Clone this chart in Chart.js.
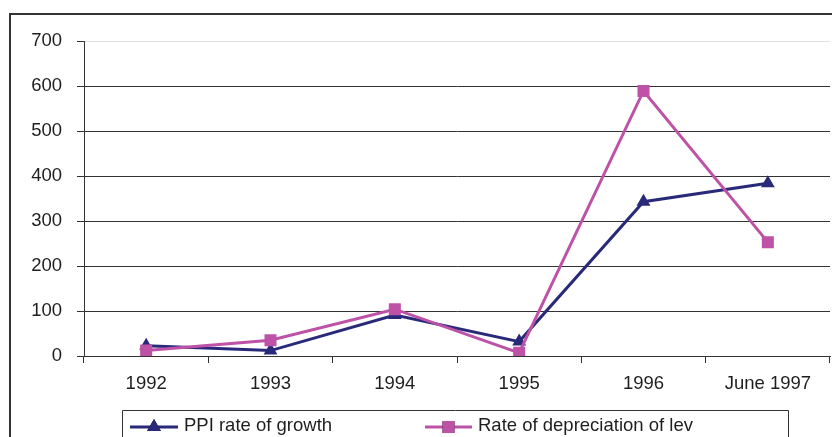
<!DOCTYPE html>
<html>
<head>
<meta charset="utf-8">
<script src="https://cdn.jsdelivr.net/npm/chart.js@4/dist/chart.umd.min.js"></script>
<style>
  html, body { margin: 0; padding: 0; background: #fff; }
  #wrap { position: relative; width: 832px; height: 437px; }
  canvas { display: block; }
</style>
</head>
<body>
<div id="wrap"><canvas id="chart" width="832" height="437"></canvas></div>
<script>
// Period labels along the horizontal axis
const periods = ['1992', '1993', '1994', '1995', '1996', 'June 1997'];
// PPI rate of growth, %
const ppiGrowth = [23, 12, 91, 32, 343, 384];
// Rate of depreciation of the lev, %
const levDepreciation = [12, 35, 104, 7, 589, 253];
// Value axis
const yTicks = [0, 100, 200, 300, 400, 500, 600, 700];

const NAVY = '#29297a';
const MAGENTA = '#bd52a6';
const FONT = "'Liberation Sans', Arial, sans-serif";
const FONT_SIZE = 18.5;

// Outer frame (left and top edges) and the boxed legend below the axis
const framePlugin = {
  id: 'frame',
  beforeDraw(chart) {
    const ctx = chart.ctx;
    ctx.save();
    ctx.fillStyle = '#fff';
    ctx.fillRect(0, 0, chart.width, chart.height);
    ctx.strokeStyle = '#333';
    ctx.lineWidth = 2;
    ctx.beginPath();
    ctx.moveTo(10, chart.height);
    ctx.lineTo(10, 14);
    ctx.lineTo(chart.width, 14);
    ctx.stroke();
    ctx.restore();
  },
  afterDraw(chart) {
    const ctx = chart.ctx;
    ctx.save();
    ctx.strokeStyle = '#333';
    ctx.lineWidth = 1;
    ctx.beginPath();
    ctx.moveTo(122.5, chart.height + 2);
    ctx.lineTo(122.5, 410.5);
    ctx.lineTo(788.5, 410.5);
    ctx.lineTo(788.5, chart.height + 2);
    ctx.stroke();

    const items = [
      { ds: chart.data.datasets[0], x0: 130, x1: 178, tx: 184 },
      { ds: chart.data.datasets[1], x0: 425, x1: 472, tx: 478 }
    ];
    const ly = 427;
    items.forEach(it => {
      ctx.strokeStyle = it.ds.borderColor;
      ctx.lineWidth = 3;
      ctx.beginPath();
      ctx.moveTo(it.x0, ly);
      ctx.lineTo(it.x1, ly);
      ctx.stroke();
      Chart.helpers.drawPoint(ctx, {
        pointStyle: it.ds.pointStyle,
        radius: it.ds.pointRadius,
        borderWidth: 0,
        rotation: 0
      }, (it.x0 + it.x1) / 2, ly);
      ctx.fillStyle = it.ds.backgroundColor;
      ctx.fill();
      ctx.fillStyle = '#1e1e1e';
      ctx.font = FONT_SIZE + 'px ' + FONT;
      ctx.textBaseline = 'middle';
      ctx.textAlign = 'left';
      ctx.fillText(it.ds.label, it.tx, ly - 1);
    });
    ctx.restore();
  }
};

new Chart(document.getElementById('chart'), {
  type: 'line',
  data: {
    labels: periods,
    datasets: [
      {
        label: 'PPI rate of growth',
        data: ppiGrowth,
        borderColor: NAVY,
        backgroundColor: NAVY,
        borderWidth: 3,
        pointStyle: 'triangle',
        pointRadius: 8,
        pointBorderWidth: 0,
        pointBackgroundColor: NAVY,
        tension: 0,
        order: 2
      },
      {
        label: 'Rate of depreciation of lev',
        data: levDepreciation,
        borderColor: MAGENTA,
        backgroundColor: MAGENTA,
        borderWidth: 3,
        pointStyle: 'rect',
        pointRadius: 8.5,
        pointBorderWidth: 0,
        pointBackgroundColor: MAGENTA,
        tension: 0,
        order: 1
      }
    ]
  },
  options: {
    responsive: false,
    animation: false,
    layout: { autoPadding: false, padding: { top: 41, right: 2, left: 0, bottom: 0 } },
    plugins: {
      legend: { display: false },
      tooltip: { enabled: false }
    },
    scales: {
      x: {
        offset: true,
        grid: {
          offset: true,
          drawOnChartArea: false,
          drawTicks: true,
          tickLength: 7,
          tickColor: '#333',
          color: '#333'
        },
        border: { display: true, color: '#333', width: 1 },
        ticks: {
          color: '#1e1e1e',
          font: { family: FONT, size: FONT_SIZE },
          padding: 10,
          maxRotation: 0,
          autoSkip: false
        },
        afterFit(s) {
          s.height = 81;
          s.paddingLeft = 0;
          s.paddingRight = 0;
        }
      },
      y: {
        min: 0,
        max: 700,
        afterBuildTicks(s) { s.ticks = yTicks.map(v => ({ value: v })); },
        grid: {
          color: ctx => (ctx.tick && ctx.tick.value === 700 ? '#e2e2e2' : '#333'),
          tickColor: '#333',
          tickLength: 7,
          lineWidth: 1
        },
        border: { display: true, color: '#333', width: 1 },
        ticks: {
          color: '#1e1e1e',
          font: { family: FONT, size: FONT_SIZE },
          padding: 15
        },
        afterFit(s) {
          s.width = 84;
          s.paddingTop = 0;
          s.paddingBottom = 0;
        }
      }
    }
  },
  plugins: [framePlugin]
});
</script>
</body>
</html>
